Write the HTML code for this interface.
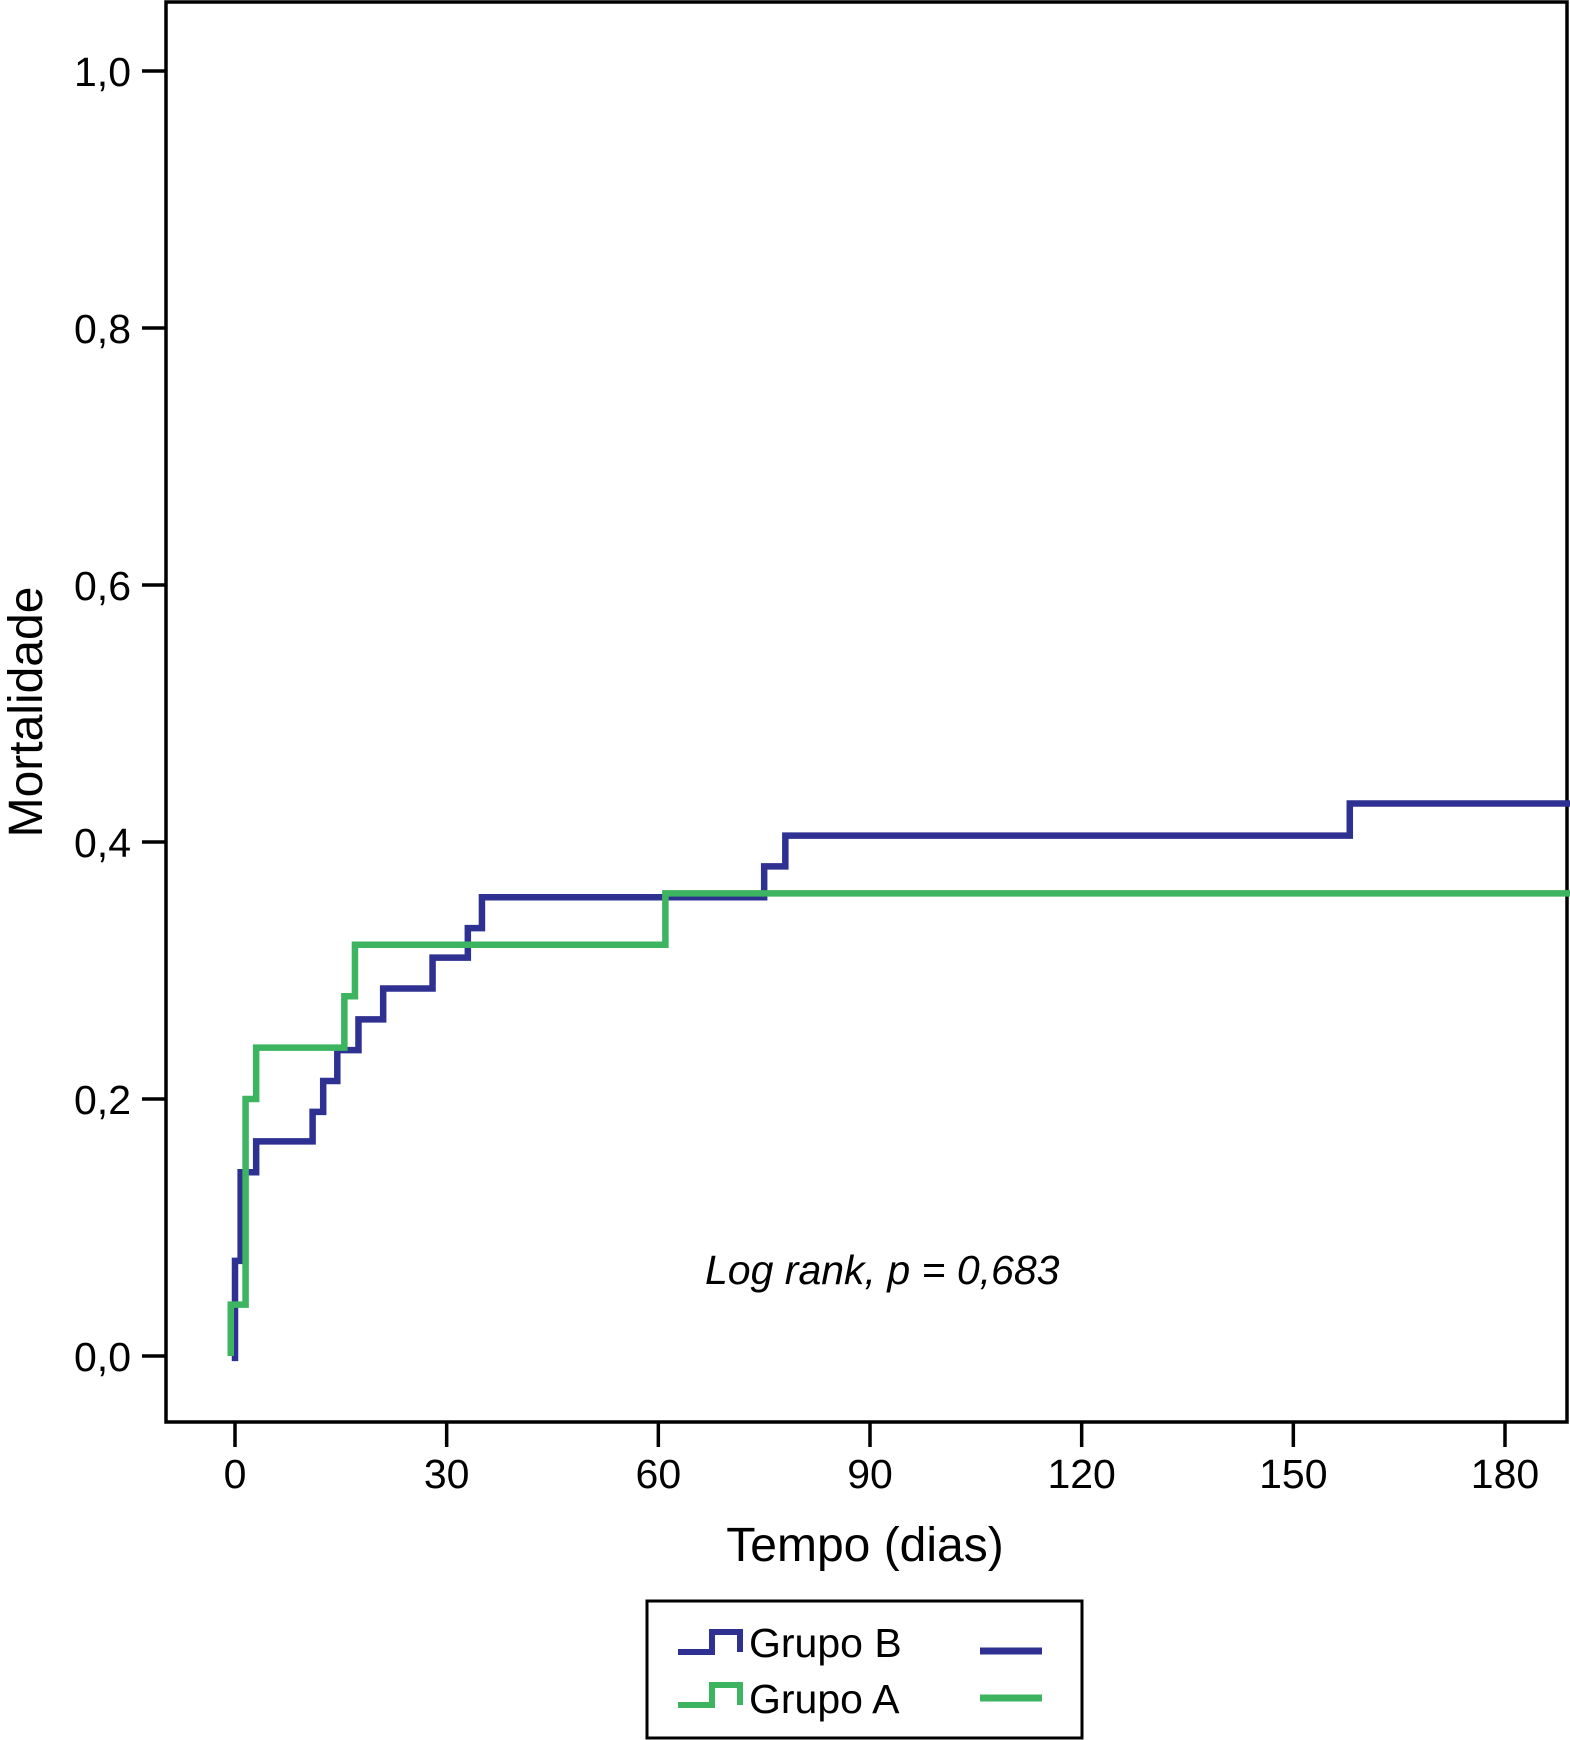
<!DOCTYPE html>
<html><head><meta charset="utf-8"><style>
html,body{margin:0;padding:0;background:#fff}
svg{display:block;font-family:"Liberation Sans",Arial,sans-serif}
</style></head><body>
<svg id="chart" width="1570" height="1740" viewBox="0 0 1570 1740" xmlns="http://www.w3.org/2000/svg">
<g id="axes"></g>
<g id="series"></g>
<text x="865" y="1561" font-size="48" text-anchor="middle">Tempo (dias)</text>
<text transform="translate(42,712) rotate(-90)" font-size="48" text-anchor="middle">Mortalidade</text>
<text x="705" y="1284" font-size="41" font-style="italic">Log rank, p = 0,683</text>
<g>
<rect x="647" y="1601" width="435" height="137" fill="#fff" stroke="#000" stroke-width="3"/>
<g>
<path d="M678 1652 H712 V1632 H740 V1652" fill="none" stroke="#2e3192" stroke-width="6"/>
<text x="749" y="1657" font-size="41">Grupo B</text>
<line x1="980" y1="1651" x2="1042" y2="1651" stroke="#2e3192" stroke-width="7"/>
</g>
<g>
<path d="M678 1705 H712 V1685 H740 V1705" fill="none" stroke="#3cb460" stroke-width="6"/>
<text x="749" y="1713" font-size="41">Grupo A</text>
<line x1="980" y1="1698" x2="1042" y2="1698" stroke="#3cb460" stroke-width="7"/>
</g>
</g>
</svg>
<script>
const xTicks=[0,30,60,90,120,150,180];
const yTicks=[0,0.2,0.4,0.6,0.8,1.0];
const yTickLabels=["0,0","0,2","0,4","0,6","0,8","1,0"];
const bTimes=[0,0,0.8,3,11,12.5,14.5,17.5,21,28,33,35,75,78,158,190];
const bVals=[-0.004,0.074,0.143,0.167,0.19,0.214,0.238,0.262,0.286,0.31,0.333,0.357,0.381,0.405,0.43,0.43];
const aTimes=[-0.6,-0.6,1.5,3,15.5,17,61,190];
const aVals=[0,0.04,0.2,0.24,0.28,0.32,0.36,0.36];
const NS="http://www.w3.org/2000/svg";
function xs(d){return 235+d*(1505-235)/180;}
function ys(v){return 1356-v*(1356-71);}
function mk(tag,attrs,parent){const e=document.createElementNS(NS,tag);for(const k in attrs)e.setAttribute(k,attrs[k]);parent.appendChild(e);return e;}
const axes=document.getElementById('axes');
const frame=mk('rect',{x:166,y:2,width:1401,height:1420,fill:'none',stroke:'#000','stroke-width':3.5},axes);


xTicks.forEach(t=>{
 const l=mk('line',{x1:xs(t),x2:xs(t),y1:1422,y2:1447,stroke:'#000','stroke-width':3.5},axes);
 
 
 const tx=mk('text',{x:xs(t),y:1488,'font-size':41,'text-anchor':'middle'},axes);
 tx.textContent=String(t);
 
 
});
yTicks.forEach((t,i)=>{
 const l=mk('line',{x1:142,x2:166,y1:ys(t),y2:ys(t),stroke:'#000','stroke-width':3.5},axes);
 
 
 const tx=mk('text',{x:131,y:ys(t)+15,'font-size':41,'text-anchor':'end'},axes);
 tx.textContent=yTickLabels[i];
 
 
});
function stepPath(ts,vs){
 let d='M'+xs(ts[0])+' '+ys(vs[0]);
 for(let i=1;i<ts.length;i++){d+=' H'+xs(ts[i])+' V'+ys(vs[i]);}
 return d;
}
const ser=document.getElementById('series');
const pb=mk('path',{d:stepPath(bTimes,bVals),fill:'none',stroke:'#2e3192','stroke-width':6.5},ser);


const pa=mk('path',{d:stepPath(aTimes,aVals),fill:'none',stroke:'#3cb460','stroke-width':6.5},ser);


</script>
</body></html>
